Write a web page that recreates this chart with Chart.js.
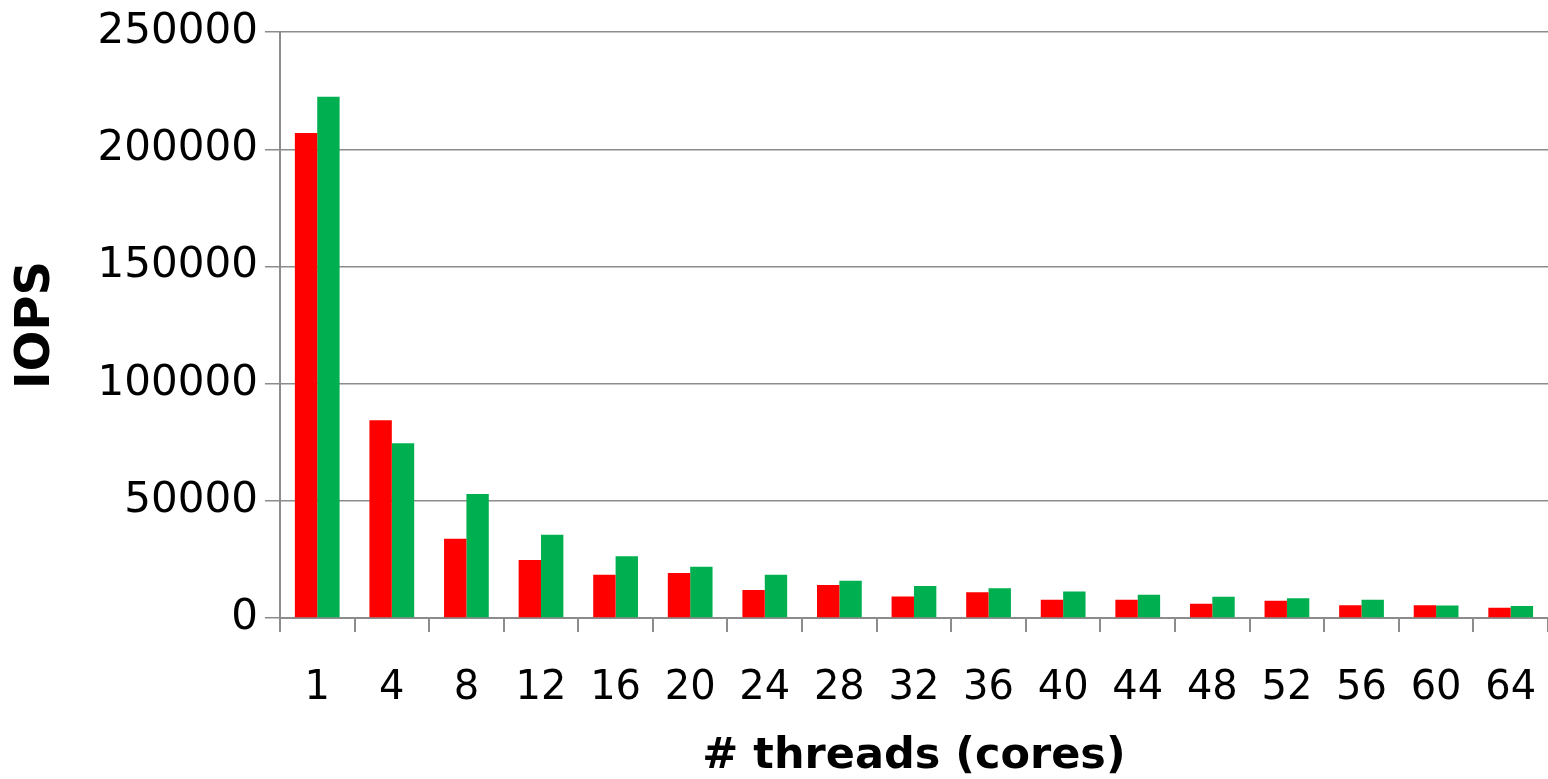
<!DOCTYPE html>
<html lang="en">
<head>
  <meta charset="UTF-8" />
  <title>IOPS vs threads</title>
  <script src="https://cdn.jsdelivr.net/npm/chart.js"></script>
  <style>
    body {
      margin: 0;
      padding: 0;
      background-color: white;
    }
    .chart-container {
      width: 1548px;
      height: 779px;
      position: relative;
    }
  </style>
</head>
<body>
  <div class="chart-container">
    <canvas id="iopsChart" width="1548" height="779"></canvas>
  </div>

  <script>
    const threads = ['1', '4', '8', '12', '16', '20', '24', '28', '32', '36', '40', '44', '48', '52', '56', '60', '64'];
    const redSeries = [207000, 84400, 33800, 24700, 18500, 19200, 12000, 14100, 9200, 11000, 7800, 7800, 6100, 7400, 5400, 5400, 4400];
    const greenSeries = [222500, 74600, 52900, 35500, 26300, 21900, 18500, 15900, 13700, 12700, 11300, 9900, 9100, 8400, 7800, 5300, 5100];
    const yTicks = [0, 50000, 100000, 150000, 200000, 250000];

    const fontFamily = "'DejaVu Sans', sans-serif";
    const axisGray = '#8c8c8c';

    const ctx = document.getElementById('iopsChart').getContext('2d');
    const chart = new Chart(ctx, {
      type: 'bar',
      data: {
        labels: threads,
        datasets: [
          {
            label: 'red',
            data: redSeries,
            backgroundColor: '#ff0000',
            borderWidth: 0,
            categoryPercentage: 0.6,
            barPercentage: 1.0
          },
          {
            label: 'green',
            data: greenSeries,
            backgroundColor: '#00b050',
            borderWidth: 0,
            categoryPercentage: 0.6,
            barPercentage: 1.0
          }
        ]
      },
      options: {
        responsive: false,
        animation: false,
        layout: {
          padding: { top: 7, right: 0, bottom: 0, left: 8 }
        },
        plugins: {
          legend: { display: false },
          tooltip: { enabled: false }
        },
        scales: {
          x: {
            // fixed axis height so the plot bottom sits where the original's does
            afterFit: (scale) => {
              scale.height = 161;
              scale.paddingLeft = 0;
              scale.paddingRight = 0;
            },
            grid: {
              offset: true,
              drawOnChartArea: false,
              drawTicks: true,
              tickLength: 14,
              color: axisGray,
              lineWidth: 2
            },
            border: { color: axisGray, width: 2 },
            ticks: {
              color: '#000',
              padding: 33,
              autoSkip: false,
              minRotation: 0,
              maxRotation: 0,
              font: { family: fontFamily, size: 40 }
            },
            title: {
              display: true,
              text: '# threads (cores)',
              color: '#000',
              padding: { top: 0, bottom: -4 },
              font: { family: fontFamily, size: 43, weight: 'bold' }
            }
          },
          y: {
            min: 0,
            max: 250000,
            afterBuildTicks: (axis) => {
              axis.ticks = yTicks.map(v => ({ value: v }));
            },
            grid: {
              color: axisGray,
              lineWidth: 1.5,
              drawTicks: true,
              tickLength: 15
            },
            border: { color: axisGray, width: 2 },
            ticks: {
              color: '#000',
              padding: 7,
              font: { family: fontFamily, size: 42 },
              callback: (v) => String(v)
            },
            title: {
              display: true,
              text: 'IOPS',
              color: '#000',
              padding: { top: 0, bottom: 25 },
              font: { family: fontFamily, size: 48, weight: 'bold' }
            }
          }
        }
      }
    });
  </script>
</body>
</html>
